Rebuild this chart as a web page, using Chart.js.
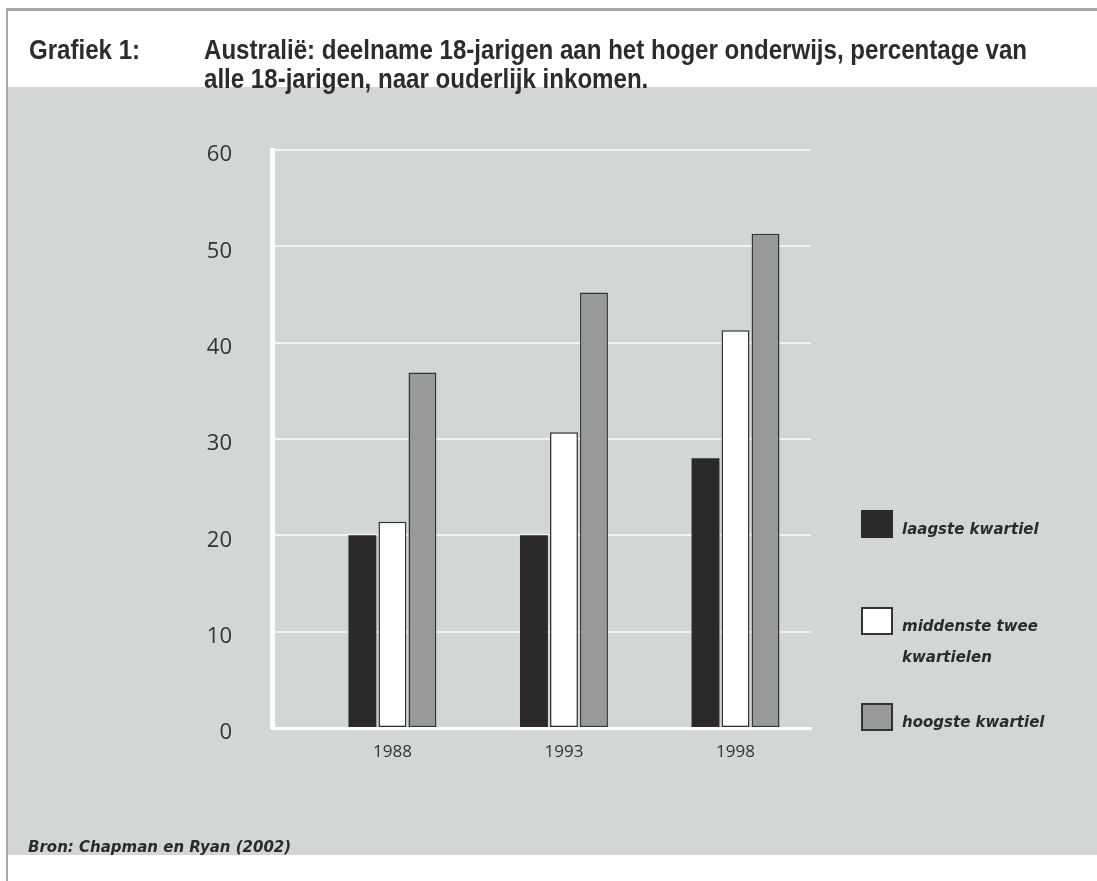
<!DOCTYPE html>
<html lang="nl">
<head>
<meta charset="utf-8">
<title>Grafiek 1</title>
<script src="https://cdn.jsdelivr.net/npm/chart.js@4.4.1/dist/chart.umd.min.js"></script>
<style>
  html, body { margin: 0; padding: 0; background: #ffffff; }
  body { width: 1097px; height: 881px; position: relative; overflow: hidden; font-family: "Open Sans", sans-serif; }
  #frame-top { position: absolute; left: 6px; top: 8px; right: 0; height: 3px; background: #a6a8a9; }
  #frame-left { position: absolute; left: 6px; top: 8px; width: 2px; bottom: 0; background: #a6a8a9; }
  #panel { position: absolute; left: 8px; top: 87px; right: 0; height: 768px; background: #d3d6d7; }
  .title { position: absolute; top: 35px; font-family: "Liberation Sans Narrow", "Arial Narrow", "Liberation Sans", sans-serif; font-weight: bold;
           font-size: 28px; line-height: 29px; color: #2c2c2c; white-space: nowrap; z-index: 2;
           transform: scaleX(0.86); transform-origin: 0 0; }
  #title-num { left: 29px; }
  #title-text { left: 204px; }
  #chart { position: absolute; left: 0; top: 0; z-index: 1; }
  #legend { position: absolute; left: 0; top: 0; z-index: 3; }
  .lg-item { position: absolute; left: 861px; }
  .lg-box { position: absolute; left: 0; top: 0; width: 32px; height: 28px; box-sizing: border-box; }
  .lg-text { position: absolute; left: 41px; top: 4px; font-family: "DejaVu Sans", sans-serif; font-weight: bold; font-style: italic;
             font-size: 15px; line-height: 31px; color: #2b2b2b; white-space: nowrap; }
  #source { position: absolute; left: 28px; top: 838px; font-family: "DejaVu Sans", sans-serif; font-weight: bold; font-style: italic;
            font-size: 15px; line-height: 18px; color: #2b2b2b; white-space: nowrap; z-index: 3; }
</style>
</head>
<body>
<div id="frame-top"></div>
<div id="frame-left"></div>
<div id="panel"></div>
<div class="title" id="title-num">Grafiek 1:</div>
<div class="title" id="title-text">Australië: deelname 18-jarigen aan het hoger onderwijs, percentage van<br>alle 18-jarigen, naar ouderlijk inkomen.</div>
<canvas id="chart" width="1097" height="881"></canvas>
<div id="legend"></div>
<div id="source">Bron: Chapman en Ryan (2002)</div>
<script>
// Survey years (x axis)
const years = [1988, 1993, 1998];

// Legend names, one entry per line of text
const seriesNames = [
  ['laagste kwartiel'],
  ['middenste twee', 'kwartielen'],
  ['hoogste kwartiel']
];

// Participation (%) of 18-year-olds in higher education by parental income quartile
const laagste = [20, 20, 28];
const middenste = [21.4, 30.7, 41.3];
const hoogste = [36.9, 45.2, 51.3];

// Y axis ticks
const yTicks = [0, 10, 20, 30, 40, 50, 60];

// Visual styling per series
const seriesStyles = [
  { backgroundColor: '#2b292a', borderColor: '#2b292a', borderWidth: 0 },
  { backgroundColor: '#ffffff', borderColor: '#333333', borderWidth: 1.5 },
  { backgroundColor: '#97999b', borderColor: '#333333', borderWidth: 1.5 }
];
const legendTops = [510, 607, 703];

const seriesValues = [laagste, middenste, hoogste];

Chart.defaults.font.family = "'Open Sans', sans-serif";
Chart.defaults.color = '#333333';

const datasets = seriesValues.map((vals, i) => Object.assign({
  label: seriesNames[i].join(' '),
  data: years.map((yr, j) => ({ x: yr, y: vals[j] })),
  categoryPercentage: 0.525,
  barPercentage: 0.93,
  borderSkipped: false
}, seriesStyles[i]));

new Chart(document.getElementById('chart'), {
  type: 'bar',
  data: { datasets },
  options: {
    responsive: false,
    devicePixelRatio: 1,
    animation: false,
    layout: { padding: { left: 200, top: 150, right: 286, bottom: 103 } },
    plugins: {
      legend: { display: false },
      tooltip: { enabled: false },
      title: { display: false }
    },
    scales: {
      x: {
        type: 'linear',
        offset: false,
        bounds: 'data',
        min: 1984.49,
        max: 2000.2,
        afterBuildTicks: (scale) => { scale.ticks = years.map(v => ({ value: v })); },
        afterFit: (scale) => { scale.height = 50; },
        grid: { display: false, drawTicks: false, offset: false },
        border: { display: true, color: '#ffffff', width: 3 },
        ticks: {
          callback: (v) => String(v),
          font: { size: 17 },
          color: '#333333',
          padding: 14,
          maxRotation: 0,
          autoSkip: false
        }
      },
      y: {
        min: 0,
        max: 60,
        afterBuildTicks: (scale) => { scale.ticks = yTicks.map(v => ({ value: v })); },
        afterFit: (scale) => { scale.width = 72; },
        grid: { color: '#f2f2f2', lineWidth: 2, drawTicks: false },
        border: { display: true, color: '#ffffff', width: 5 },
        ticks: {
          font: { size: 22 },
          color: '#333333',
          padding: 40,
          labelOffset: 5
        }
      }
    }
  }
});

// Legend built from the same series names and styles
const legend = document.getElementById('legend');
seriesNames.forEach((lines, i) => {
  const item = document.createElement('div');
  item.className = 'lg-item';
  item.style.top = legendTops[i] + 'px';
  const box = document.createElement('div');
  box.className = 'lg-box';
  const st = seriesStyles[i];
  box.style.background = st.backgroundColor;
  if (st.borderWidth) box.style.border = '2px solid ' + st.borderColor;
  const text = document.createElement('div');
  text.className = 'lg-text';
  text.innerHTML = lines.join('<br>');
  item.appendChild(box);
  item.appendChild(text);
  legend.appendChild(item);
});
</script>
</body>
</html>
